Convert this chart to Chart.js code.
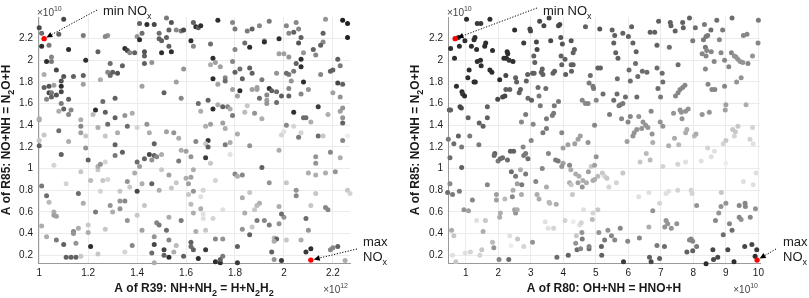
<!DOCTYPE html>
<html>
<head>
<meta charset="utf-8">
<script src="https://cdn.jsdelivr.net/npm/chart.js@4.4.1/dist/chart.umd.min.js"></script>
<style>
  html, body { margin: 0; padding: 0; background: #fff; }
  #wrap { position: relative; width: 809px; height: 298px; overflow: hidden; }
  #wrap canvas { position: absolute; top: 0; }
</style>
</head>
<body>
<div id="wrap">
  <canvas id="left-panel" width="400" height="298" style="left:0"></canvas>
  <canvas id="right-panel" width="409" height="298" style="left:400px"></canvas>
</div>
<script>
// Each sample row: [A of reaction on x (scaled), A of R85 (x1e10), NOx shade 0=black .. 1=white]
// Left panel: x = A of R39 (x1e12)
const leftSamples = [
  [1.00,2.30,.2],[1.01,2.25,.35],[1.01,2.13,.1],[1.04,2.14,.4],[1.10,2.38,.2],[1.08,2.24,.3],[1.12,2.10,.1],[1.03,1.99,.1],[1.05,2.03,.45],[1.05,1.99,.4],
  [1.07,1.91,.2],[1.02,1.87,.6],[1.02,1.75,.3],[1.04,1.76,.25],[1.06,1.77,.55],[1.04,1.70,.2],[1.05,1.70,.4],[1.03,1.64,.45],[1.05,1.66,.3],[1.07,1.68,.25],
  [1.09,1.71,.2],[1.09,1.76,.1],[1.09,1.81,.25],[1.10,1.85,.25],[1.14,1.85,.3],[1.12,1.64,.3],[1.09,1.60,.4],[1.10,1.55,.3],[1.13,1.54,.45],[1.12,1.50,.45],
  [1.00,1.45,.55],[1.00,1.46,.6],[1.08,1.53,.6],[1.08,1.35,.35],[1.02,1.31,.7],[1.00,1.26,.7],[1.00,1.21,.3],[1.12,1.25,.6],[1.18,2.23,.4],[1.19,2.00,.1],
  [1.18,1.86,.3],[1.18,1.78,.55],[1.17,1.45,.6],[1.17,1.39,.45],[1.17,1.33,.55],[1.19,1.30,.7],[1.19,1.19,.5],[1.24,2.08,.3],[1.25,1.82,.6],[1.26,1.62,.35],
  [1.23,1.54,.1],[1.22,1.50,.65],[1.27,1.52,.3],[1.24,1.38,.6],[1.28,1.41,.35],[1.27,1.30,.7],[1.28,2.23,.5],[1.27,2.22,.45],[1.29,1.97,.35],[1.28,1.89,.45],
  [1.29,1.86,.35],[1.30,1.89,.3],[1.32,1.88,.25],[1.31,1.65,.3],[1.31,1.47,.3],[1.32,1.33,.6],[1.31,1.22,.3],[1.35,2.11,.1],[1.36,2.09,.2],[1.34,1.95,.3],
  [1.37,2.07,.45],[1.39,2.07,.3],[1.35,1.49,.5],[1.36,1.39,.35],[1.38,1.51,.6],[1.40,1.38,.75],[1.40,2.22,.5],[1.41,2.34,.3],[1.41,2.19,.1],[1.42,2.25,.35],
  [1.43,2.08,.25],[1.43,2.04,.3],[1.43,1.97,.3],[1.42,1.76,.55],[1.44,2.33,.1],[1.46,1.98,.5],[1.47,2.33,.2],[1.49,2.25,.35],[1.50,2.18,.3],[1.52,2.21,.3],
  [1.49,2.20,.3],[1.50,2.07,.1],[1.51,1.70,.3],[1.45,1.33,.6],[1.44,1.41,.5],[1.47,1.23,.3],[1.52,1.34,.55],[1.52,2.39,.4],[1.53,2.28,.3],[1.53,2.13,.3],
  [1.54,2.35,.25],[1.54,2.08,.1],[1.56,2.28,.45],[1.59,1.92,.5],[1.56,1.80,.55],[1.58,1.65,.45],[1.55,1.33,.5],[1.57,1.28,.6],[1.58,2.27,.4],[1.59,2.28,.2],
  [1.62,2.18,.1],[1.63,2.35,.3],[1.64,2.31,.1],[1.65,2.30,.3],[1.63,2.13,.45],[1.65,1.60,.35],[1.64,1.25,.45],
  [1.09,1.13,.3],[1.06,1.03,.75],[1.01,0.84,.4],[1.03,0.75,.35],[1.04,0.69,.65],[1.06,0.60,.6],[1.06,0.57,.55],[1.07,0.56,.55],[1.11,0.86,.75],[1.17,0.97,.7],
  [1.20,1.08,.3],[1.21,0.89,.65],[1.16,0.77,.35],[1.18,0.68,.6],[1.01,0.47,.6],[1.03,0.37,.6],[1.07,0.34,.4],[1.10,0.30,.3],[1.11,0.18,.3],[1.13,0.18,.3],
  [1.15,0.18,.3],[1.14,0.42,.45],[1.14,0.40,.5],[1.16,0.45,.6],[1.15,0.31,.5],[1.17,0.19,.7],[1.20,0.48,.7],[1.20,0.41,.6],[1.21,0.28,.1],[1.23,0.60,.4],
  [1.24,0.99,.7],[1.24,1.02,.6],[1.25,1.04,.5],[1.26,0.89,.7],[1.27,0.44,.7],[1.24,0.21,.7],[1.25,0.79,.75],[1.27,1.06,.75],[1.28,0.90,.75],[1.29,0.66,.5],
  [1.30,0.60,.6],[1.31,1.12,.4],[1.33,0.79,.7],[1.33,0.70,.5],[1.33,0.63,.5],[1.34,1.15,.3],[1.35,0.70,.45],[1.36,0.52,.5],[1.36,0.88,.5],[1.37,0.83,.7],
  [1.38,0.29,.45],[1.35,0.23,.75],[1.39,0.96,.6],[1.40,1.06,.35],[1.40,0.79,.2],[1.41,1.02,.55],[1.42,0.86,.6],[1.40,0.57,.7],[1.42,0.43,.55],[1.43,0.66,.7],
  [1.43,1.09,.3],[1.45,1.13,.2],[1.46,1.08,.5],[1.46,0.86,.3],[1.47,1.12,.3],[1.48,1.11,.45],[1.49,0.80,.6],[1.47,0.37,.5],[1.47,0.30,.2],[1.47,0.13,.6],
  [1.46,0.22,.35],[1.48,0.50,.45],[1.49,0.48,.4],[1.50,1.13,.6],[1.50,0.99,.7],[1.52,0.43,.35],[1.51,0.25,.2],[1.51,0.20,.3],[1.53,0.18,.1],[1.53,0.34,.45],
  [1.53,0.94,.55],[1.54,0.82,.7],[1.56,0.87,.7],[1.55,0.23,.6],[1.56,0.29,.65],[1.57,1.07,.4],[1.58,0.52,.4],[1.58,1.17,.6],[1.60,1.16,.55],[1.61,0.76,.7],
  [1.60,0.91,.6],[1.61,0.86,.55],[1.62,0.67,.65],[1.62,1.11,.5],[1.62,0.92,.55],[1.63,0.99,.6],[1.63,0.79,.5],[1.63,0.59,.6],[1.62,0.28,.35],[1.62,0.32,.3],
  [1.63,0.25,.3],[1.64,0.42,.6],[1.65,0.17,.1],[1.66,0.63,.6],[1.59,0.19,.3],[1.53,0.55,.6],
  [1.66,2.32,.1],[1.73,2.37,.1],[1.79,2.35,.45],[1.80,2.29,.4],[1.85,2.27,.4],[1.87,2.29,.3],[1.90,2.32,.45],[1.94,2.36,.4],[1.70,2.15,.35],[1.80,2.10,.45],
  [1.84,2.16,.35],[1.86,2.12,.1],[1.92,2.18,.5],[1.92,2.17,.1],[1.98,2.20,.1],[2.01,2.32,.45],[2.05,2.35,.45],[2.06,2.29,.45],[2.04,2.26,.3],[2.02,2.25,.45],
  [2.07,2.21,.3],[2.06,2.16,.25],[2.17,2.38,.5],[2.24,2.37,.05],[2.26,2.34,.05],[2.26,2.21,.05],[2.16,2.25,.3],[2.16,2.17,.45],[2.15,2.14,.3],[2.12,2.10,.3],
  [2.13,2.05,.45],[1.98,2.06,.55],[2.00,2.06,.55],[2.02,2.03,.5],[2.08,2.07,.5],[2.07,2.01,.1],[2.05,1.97,.3],[2.07,1.94,.1],[2.04,1.90,.4],[2.02,1.87,.4],
  [2.03,1.81,.5],[2.08,1.80,.1],[2.10,1.73,.5],[2.07,1.69,.45],[2.02,1.74,.45],[2.02,1.67,.3],[1.99,1.67,.3],[1.97,1.61,.35],[1.97,1.71,.35],[1.94,1.74,.1],
  [1.95,1.72,.3],[1.93,1.68,.45],[1.93,1.63,.55],[1.93,1.60,.5],[1.90,1.65,.35],[1.89,1.73,.55],[1.89,1.75,.55],[1.87,1.73,.55],[1.91,1.82,.4],[1.87,1.88,.3],
  [1.86,1.93,.3],[1.83,1.83,.3],[1.82,1.92,.35],[1.80,1.89,.3],[1.82,1.72,.1],[1.79,1.73,.55],[1.81,1.67,.55],[1.79,1.99,.45],[1.76,1.84,.45],[1.76,1.81,.35],
  [1.73,1.78,.55],[1.71,1.83,.1],[1.71,2.02,.1],[1.72,1.98,.55],[1.70,1.96,.6],[1.74,1.94,.55],[1.97,1.88,.5],[2.01,1.88,.35],[2.19,1.90,.3],[2.20,1.91,.3],
  [2.22,1.79,.2],[2.24,1.78,.3],[2.22,2.01,.3],[2.23,1.95,.4],[2.15,1.87,.45],[2.20,1.70,.55],[2.23,1.66,.5],[2.14,1.57,.15],[2.04,1.52,.1],[2.08,1.47,.35],
  [2.09,1.47,.35],[2.11,1.43,.6],[2.18,1.50,.6],[2.23,1.53,.55],[2.24,1.56,.5],[2.24,1.47,.5],[2.24,1.42,.3],[2.01,1.40,.45],[2.04,1.39,.75],[1.99,1.31,.75],
  [2.00,1.34,.8],[2.07,1.33,.75],[2.06,1.29,.4],[2.14,1.30,.35],[2.16,1.30,.7],[2.26,1.30,.85],[2.24,1.26,.45],[1.69,1.63,.3],[1.71,1.55,.1],[1.73,1.59,.6],
  [1.75,1.57,.3],[1.77,1.57,.45],[1.78,1.55,.6],[1.66,1.53,.6],[1.79,1.49,.4],[1.84,1.52,.65],[1.85,1.58,.7],[1.88,1.51,.5],[1.91,1.46,.6],[1.68,1.39,.6],
  [1.70,1.41,.55],[1.75,1.42,.55],[1.76,1.37,.6],[1.69,1.26,.15],[1.68,1.23,.7],[1.69,1.20,.3],[1.76,1.22,.4],[1.78,1.24,.6],[1.81,1.32,.6],[1.86,1.21,.5],
  [1.68,1.10,.15],[1.70,1.05,.7],[1.72,0.89,.75],[1.78,1.13,.8],[1.80,0.95,.45],[1.81,0.93,.6],[1.83,0.94,.45],[1.91,1.01,.3],[1.98,1.17,.6],[2.13,1.11,.5],
  [2.13,1.05,.5],[2.19,1.15,.45],[2.23,1.10,.6],[2.17,0.96,.6],[2.21,0.97,.5],[2.13,0.94,.6],[2.10,0.96,.6],[1.67,0.80,.75],[1.66,0.74,.8],[1.86,0.78,.7],
  [1.83,0.73,.6],[1.94,0.87,.5],[2.01,0.87,.7],[2.05,0.80,.5],[2.05,0.75,.45],[1.90,0.68,.6],[1.89,0.66,.65],[1.88,0.62,.7],[1.67,0.58,.8],[1.75,0.62,.8],
  [1.71,0.54,.75],[1.67,0.54,.8],[1.84,0.59,.6],[1.89,0.52,.4],[1.92,0.52,.45],[1.94,0.48,.4],[1.98,0.49,.5],[2.00,0.55,.5],[1.99,0.58,.35],[1.98,0.65,.6],
  [1.87,0.46,.7],[1.83,0.44,.5],[1.86,0.39,.3],[1.68,0.43,.7],[1.72,0.35,.45],[1.75,0.35,.5],[1.96,0.36,.65],[1.97,0.35,.3],[1.96,0.33,.6],[2.01,0.34,.7],
  [2.09,0.54,.35],[2.10,0.43,.5],[2.17,0.64,.45],[2.18,0.62,.45],[2.26,0.80,.7],[2.27,0.77,.75],[2.13,0.77,.7],[2.11,0.66,.7],[2.07,0.34,.6],[1.68,0.25,.15],
  [1.72,0.14,.1],[1.74,0.13,.1],[1.74,0.16,.3],[1.75,0.19,.4],[1.81,0.13,.15],[1.81,0.28,.3],[1.95,0.23,.3],[1.96,0.16,.5],[1.99,0.15,.15],[2.09,0.23,.15],
  [2.11,0.26,.1],[2.19,0.25,.45],[2.20,0.27,.45],[2.22,0.28,.3],[2.25,0.15,.6]
];

// Right panel: x = A of R80 (x1e10)
const rightSamples = [
  [0.53,2.11,.1],[0.65,2.02,.1],[0.80,2.13,.1],[0.77,2.21,.1],[0.97,2.18,.1],[1.02,2.38,.1],[1.28,2.21,.1],[1.25,2.19,.1],[1.35,2.34,.15],[1.46,2.34,.15],
  [1.74,2.38,.1],[1.17,2.13,.1],[1.33,2.10,.1],[1.58,2.13,.1],[1.61,2.16,.1],[1.82,2.09,.1],[1.35,1.99,.1],[1.45,2.00,.1],[1.47,1.95,.1],[1.10,1.91,.1],
  [1.06,1.84,.1],[1.25,1.80,.1],[1.29,1.80,.1],[1.74,1.91,.1],[1.80,1.89,.1],[0.71,1.76,.1],[0.88,1.71,.1],[0.90,1.69,.15],[0.96,1.67,.1],[0.82,1.57,.2],
  [0.86,1.56,.2],[0.49,1.54,.3],[0.53,1.54,.3],[1.66,1.57,.3],[1.07,1.47,.3],[1.41,1.42,.3],[1.53,1.39,.3],[1.66,1.47,.3],[0.46,1.27,.4],[0.63,1.23,.35],
  [0.77,1.30,.3],[0.87,1.20,.4],[1.12,1.30,.4],[1.40,1.22,.4],[2.04,1.82,.1],[1.98,1.64,.2],[2.13,1.66,.2],[2.20,1.67,.2],[2.23,1.86,.2],[2.27,2.08,.1],
  [2.29,2.06,.1],[2.17,2.02,.1],[2.25,2.02,.1],[2.33,2.00,.15],[2.45,1.99,.1],[2.50,2.28,.1],[2.78,2.16,.15],[2.53,1.84,.3],[2.56,1.80,.3],[2.64,1.70,.3],
  [2.68,1.73,.3],[2.35,1.73,.3],[2.23,1.73,.3],[2.91,1.65,.35],[3.02,1.63,.3],[2.86,1.81,.3],[2.90,1.87,.3],[2.97,2.29,.2],[2.99,2.27,.2],[3.05,1.88,.3],
  [3.10,1.88,.3],[3.09,2.04,.3],[3.12,1.98,.3],[3.17,2.17,.2],[3.19,2.10,.2],[3.27,2.36,.2],[3.40,2.32,.2],[3.35,1.92,.3],[3.32,1.89,.3],[3.37,1.87,.3],
  [3.46,1.74,.35],[3.22,1.75,.35],[3.25,1.67,.4],[3.29,1.58,.4],[3.56,2.39,.2],[3.61,2.18,.2],[3.68,1.88,.3],[3.73,1.90,.3],[3.72,1.58,.4],[3.70,1.51,.4],
  [3.66,1.49,.4],[3.48,1.46,.4],[3.48,1.37,.4],[3.37,1.33,.4],[3.07,1.41,.45],[3.01,1.26,.45],[2.71,1.43,.45],[2.84,1.50,.4],[2.76,1.20,.45],[3.85,2.32,.2],
  [3.89,2.33,.2],[3.92,2.21,.25],[3.97,2.15,.25],[3.93,2.04,.3],[3.95,1.96,.3],[4.05,2.01,.3],[3.85,1.62,.4],[3.95,1.33,.45],[3.99,1.19,.55],[4.14,1.22,.55],
  [4.07,1.87,.3],[4.25,1.90,.3],[4.30,2.07,.3],[4.34,2.10,.3],[4.24,1.96,.3],[4.30,1.96,.3],[4.24,2.18,.25],[4.52,1.30,.55],[4.35,1.23,.55],[4.45,1.27,.55],
  [4.68,2.31,.3],[4.83,1.86,.35],[4.91,1.76,.4],[4.79,1.79,.4],[4.93,1.74,.4],[4.58,1.63,.45],[4.68,1.60,.45],[4.76,1.60,.45],[4.96,1.40,.45],[5.01,1.63,.45],
  [5.06,1.93,.3],[4.76,1.24,.5],
  [0.51,1.10,.35],[0.51,0.86,.45],[0.44,0.78,.35],[0.59,0.76,.4],[0.80,0.79,.4],[0.87,1.01,.3],[0.56,0.43,.6],[0.63,0.38,.7],[0.59,0.20,.8],[0.69,0.14,.7],
  [0.94,0.62,.5],[1.08,0.61,.55],[0.98,0.22,.8],[1.14,0.23,.75],[1.20,0.71,.45],[1.49,0.25,.7],[1.33,0.52,.8],[1.53,0.42,.6],[1.66,0.85,.45],[1.60,0.52,.7],
  [1.43,0.20,.75],[1.89,1.14,.3],[1.87,1.12,.35],[1.99,1.07,.4],[1.94,0.76,.55],[1.94,0.71,.55],[1.82,0.32,.65],[1.86,0.27,.5],[2.02,0.16,.45],[2.06,1.09,.35],
  [2.13,1.10,.35],[2.28,1.08,.35],[2.06,0.59,.6],[2.04,0.55,.6],[2.20,0.72,.65],[2.32,0.16,.35],[2.37,1.16,.3],[2.47,1.16,.3],[2.40,0.97,.35],[2.43,0.74,.45],
  [2.45,0.80,.6],[2.53,0.93,.4],[2.58,0.86,.55],[2.59,0.35,.7],[2.53,0.59,.5],[2.50,0.62,.55],[2.58,0.62,.6],[2.35,0.38,.8],[2.39,0.29,.85],[2.72,0.85,.4],
  [2.71,0.76,.6],[2.78,1.12,.4],[2.84,1.14,.4],[2.84,0.95,.4],[2.91,1.09,.35],[2.68,0.99,.6],[2.78,0.28,.75],[3.05,0.32,.5],[3.15,0.88,.45],[3.19,0.76,.6],
  [3.25,0.72,.6],[3.35,1.00,.45],[3.48,0.83,.6],[3.54,1.14,.45],[3.56,0.69,.65],[3.58,0.68,.65],[3.44,0.51,.8],[3.53,0.45,.8],[3.70,0.45,.75],[3.84,1.07,.4],
  [3.76,1.08,.4],[3.78,0.67,.6],[3.80,0.18,.35],[3.99,1.05,.55],[3.95,1.02,.5],[4.05,0.52,.75],[4.15,0.20,.3],[4.19,1.03,.45],[4.23,0.99,.6],[4.19,0.87,.6],
  [4.24,0.85,.7],[4.28,0.76,.7],[4.30,0.51,.85],[4.38,0.95,.6],[4.48,0.93,.6],[4.45,0.87,.55],[4.40,0.38,.7],[4.38,0.31,.5],[4.42,0.25,.35],[4.50,0.48,.8],
  [4.55,0.50,.75],[4.57,0.41,.5],[4.53,0.26,.45],[4.58,0.35,.4],[4.60,0.89,.6],[4.58,0.83,.5],[4.62,0.62,.8],[4.71,0.87,.6],[4.77,0.97,.55],[4.86,1.02,.7],
  [4.89,0.53,.65],[4.91,0.89,.6],[4.96,0.90,.6],[4.79,0.26,.35],[4.79,0.28,.45],[4.91,0.59,.75],[4.96,1.03,.55],[5.01,1.11,.5],[5.09,0.41,.5],[5.06,0.62,.7],
  [5.06,0.93,.65],
  [5.12,2.29,.25],[5.50,2.28,.3],[5.58,2.23,.3],[5.55,2.16,.3],[5.61,2.07,.3],[5.68,2.02,.3],[5.83,2.25,.3],[6.00,2.22,.3],[6.10,2.31,.3],[6.14,2.16,.3],
  [6.24,2.08,.3],[6.67,2.26,.3],[6.81,2.26,.3],[6.93,2.36,.3],[6.88,2.14,.3],[7.29,2.35,.3],[7.31,2.32,.3],[7.44,2.27,.3],[7.67,2.35,.3],[7.69,2.30,.3],
  [7.88,2.39,.3],[8.06,2.30,.35],[8.34,2.33,.4],[8.54,2.28,.35],[8.72,2.37,.35],[8.90,2.28,.4],[9.19,2.39,.35],[10.0,2.37,.4],[9.54,2.23,.45],[9.65,2.24,.45],
  [9.99,2.16,.45],[9.82,2.04,.5],[9.68,1.97,.45],[7.26,2.12,.35],[7.98,2.18,.4],[8.31,2.19,.4],[8.39,2.22,.4],[8.44,2.23,.4],[8.37,2.12,.4],[8.41,2.09,.45],
  [8.27,2.06,.45],[8.39,2.04,.45],[8.55,2.08,.45],[8.64,1.99,.45],[8.80,2.19,.45],[8.85,2.07,.45],[8.96,2.00,.45],[9.09,1.94,.45],[9.17,2.07,.45],[9.26,2.04,.5],
  [9.31,2.03,.5],[9.37,2.01,.5],[9.44,1.99,.5],[9.52,1.98,.5],[8.37,1.92,.45],[7.53,1.96,.35],[6.88,1.93,.35],[7.04,1.88,.35],[6.22,1.97,.35],[6.02,1.91,.35],
  [6.29,1.85,.35],[6.43,1.90,.35],[6.57,1.89,.35],[6.06,1.81,.35],[5.66,1.83,.35],[5.14,1.93,.3],[5.22,1.69,.35],[5.65,1.69,.35],[5.55,1.63,.35],[5.91,1.66,.35],
  [5.75,1.59,.4],[5.83,1.60,.4],[5.71,1.58,.4],[5.42,1.50,.4],[5.79,1.46,.45],[6.06,1.48,.45],[5.99,1.43,.45],[6.32,1.48,.5],[6.26,1.66,.35],[7.06,1.80,.35],
  [6.91,1.74,.35],[6.99,1.66,.4],[6.70,1.53,.45],[6.45,1.43,.5],[6.53,1.40,.5],[6.60,1.38,.5],[6.41,1.37,.5],[6.26,1.36,.5],[6.18,1.33,.5],[6.14,1.30,.5],
  [6.73,1.32,.5],[6.98,1.43,.5],[7.06,1.39,.5],[5.96,1.25,.55],[6.75,1.24,.6],[7.45,1.67,.45],[7.53,1.70,.45],[7.59,1.73,.45],[7.67,1.75,.45],[7.74,1.77,.45],
  [7.39,1.51,.5],[7.59,1.54,.5],[7.63,1.52,.5],[7.76,1.53,.5],[7.84,1.55,.5],[7.65,1.46,.5],[7.24,1.21,.6],[7.42,1.28,.6],[7.55,1.22,.65],[7.80,1.36,.6],
  [7.76,1.33,.6],[8.03,1.30,.65],[8.08,1.32,.6],[8.27,1.50,.5],[8.49,1.52,.5],[8.45,1.78,.45],[8.57,1.73,.45],[8.66,1.73,.45],[8.96,1.76,.45],[9.33,1.80,.5],
  [9.47,1.84,.5],[9.00,1.59,.55],[8.98,1.54,.55],[9.62,1.59,.6],[9.00,1.26,.7],[8.92,1.23,.75],[9.21,1.36,.7],[9.29,1.34,.7],[9.37,1.39,.7],[9.26,1.30,.75],
  [9.82,1.38,.75],[9.74,1.27,.75],[9.84,1.23,.8],[8.44,1.19,.75],
  [6.55,1.14,.65],[6.36,1.06,.7],[6.67,1.08,.65],[5.20,0.96,.7],[5.27,0.93,.75],[5.34,0.91,.7],[5.83,0.96,.7],[7.06,1.02,.75],[7.52,1.04,.75],[7.76,1.06,.8],
  [8.24,1.07,.8],[8.55,1.11,.8],[8.65,1.16,.8],[9.00,1.05,.85],[9.54,0.88,.8],[9.84,0.85,.8],[9.93,0.96,.8],[5.63,0.87,.75],[5.40,0.83,.75],[6.32,0.74,.8],
  [6.63,0.78,.8],[7.16,0.77,.8],[7.24,0.79,.8],[7.52,0.80,.75],[6.96,0.68,.75],[6.75,0.61,.5],[7.93,0.80,.75],[7.96,0.77,.75],[8.10,0.66,.5],[8.86,0.78,.7],
  [9.00,0.68,.5],[8.78,0.59,.5],[8.68,0.52,.45],[8.85,0.65,.5],[9.11,0.49,.45],[9.41,0.66,.45],[9.59,0.68,.45],[9.60,0.65,.45],[9.47,0.53,.5],[9.41,0.55,.45],
  [9.75,0.55,.45],[9.91,0.63,.5],[9.19,0.43,.35],[8.92,0.39,.35],[5.27,0.34,.4],[5.37,0.43,.5],[5.48,0.38,.45],[5.58,0.34,.45],[5.75,0.45,.45],[5.98,0.33,.45],
  [6.34,0.36,.45],[6.63,0.46,.6],[7.16,0.52,.5],[7.21,0.49,.5],[7.32,0.45,.5],[7.12,0.46,.5],[7.49,0.49,.5],[6.88,0.29,.4],[7.11,0.28,.35],[6.96,0.17,.3],
  [6.65,0.18,.3],[6.70,0.14,.2],[5.85,0.14,.15],[5.17,0.28,.3],[5.18,0.20,.3],[7.93,0.35,.45],[7.98,0.33,.45],[7.88,0.34,.45],[8.10,0.28,.4],[7.80,0.23,.3],
  [7.98,0.24,.3],[8.60,0.25,.2],[8.62,0.16,.2],[8.75,0.18,.2],[8.39,0.12,.1],[9.06,0.25,.2],[9.25,0.14,.1],[9.58,0.28,.2],[9.80,0.30,.2],[9.95,0.25,.15],
  [9.90,0.19,.1]
];

// The samples giving the lowest and highest NOx (red markers)
const leftMinNox = [1.02, 2.20];
const leftMaxNox = [2.11, 0.155];
const rightMinNox = [0.67, 2.20];
const rightMaxNox = [9.96, 0.155];

const leftXTicks = [1, 1.2, 1.4, 1.6, 1.8, 2, 2.2];
const rightXTicks = [1, 2, 3, 4, 5, 6, 7, 8, 9, 10];
const yTicks = [0.2, 0.4, 0.6, 0.8, 1, 1.2, 1.4, 1.6, 1.8, 2, 2.2];

const yTitle = "A of R85: NO+NH = N_2O+H";
const leftXTitle = "A of R39: NH+NH_2 = H+N_2H_2";
const rightXTitle = "A of R80: OH+NH = HNO+H";
const minLabel = "min NO_x";
const maxLabel = ["max", "NO_x"];

const FONT = '"Liberation Sans", Arial, Helvetica, sans-serif';
const TEXT_COLOR = "#1a1a1a";

function shadeToGray(shade) {
  const g = Math.round(20 + 228 * Math.min(1, shade * 1.12));
  return `rgb(${g},${g},${g})`;
}

// "N_2O" -> subscript the character after each underscore
function parseRich(str) {
  const parts = [];
  let buf = "";
  for (let i = 0; i < str.length; i++) {
    if (str[i] === "_" && i + 1 < str.length) {
      if (buf) parts.push([buf, false]);
      buf = "";
      parts.push([str[i + 1], true]);
      i++;
    } else {
      buf += str[i];
    }
  }
  if (buf) parts.push([buf, false]);
  return parts;
}

function drawRich(ctx, str, x, y, size, weight, align) {
  const parts = parseRich(str);
  const subSize = Math.round(size * 0.72);
  const fontFor = (sub) => `${weight} ${sub ? subSize : size}px ${FONT}`;
  let total = 0;
  parts.forEach(([t, sub]) => {
    ctx.font = fontFor(sub);
    total += ctx.measureText(t).width;
  });
  let cx = align === "center" ? x - total / 2 : align === "right" ? x - total : x;
  ctx.textAlign = "left";
  ctx.textBaseline = "alphabetic";
  parts.forEach(([t, sub]) => {
    ctx.font = fontFor(sub);
    ctx.fillText(t, cx, y + (sub ? size * 0.3 : 0));
    cx += ctx.measureText(t).width;
  });
}

function drawPower(ctx, exponent, x, y, align) {
  const base = "\u00d710";
  ctx.font = `10px ${FONT}`;
  const wBase = ctx.measureText(base).width;
  ctx.font = `7px ${FONT}`;
  const wExp = ctx.measureText(exponent).width;
  let left = align === "right" ? x - wBase - wExp : x;
  ctx.fillStyle = "#444";
  ctx.textAlign = "left";
  ctx.textBaseline = "alphabetic";
  ctx.font = `10px ${FONT}`;
  ctx.fillText(base, left, y);
  ctx.font = `7px ${FONT}`;
  ctx.fillText(exponent, left + wBase, y - 5);
}

function drawArrow(ctx, from, to) {
  const dx = to[0] - from[0];
  const dy = to[1] - from[1];
  const len = Math.hypot(dx, dy);
  const ux = dx / len;
  const uy = dy / len;
  const headLen = 6;
  const headW = 2.8;
  const bx = to[0] - ux * headLen;
  const by = to[1] - uy * headLen;
  ctx.save();
  ctx.strokeStyle = "#000";
  ctx.lineWidth = 1;
  ctx.setLineDash([1.2, 1.6]);
  ctx.beginPath();
  ctx.moveTo(from[0], from[1]);
  ctx.lineTo(bx, by);
  ctx.stroke();
  ctx.setLineDash([]);
  ctx.fillStyle = "#000";
  ctx.beginPath();
  ctx.moveTo(to[0], to[1]);
  ctx.lineTo(bx - uy * headW, by + ux * headW);
  ctx.lineTo(bx + uy * headW, by - ux * headW);
  ctx.closePath();
  ctx.fill();
  ctx.restore();
}

// Titles, exponent labels and the min/max NOx call-outs
const annotationPlugin = {
  id: "noxAnnotations",
  afterDraw(chart, args, opts) {
    const { ctx, chartArea, scales } = chart;
    ctx.save();
    ctx.fillStyle = TEXT_COLOR;

    // y title, rotated
    ctx.save();
    ctx.translate(chartArea.left + opts.yTitleOffset, (chartArea.top + chartArea.bottom) / 2);
    ctx.rotate(-Math.PI / 2);
    drawRich(ctx, yTitle, 0, 0, 12, "bold", "center");
    ctx.restore();

    // x title
    drawRich(ctx, opts.xTitle, (chartArea.left + chartArea.right) / 2, chartArea.bottom + 29, 12, "bold", "center");

    // exponent labels
    drawPower(ctx, "10", chartArea.left - 1, chartArea.top - 1, "left");
    drawPower(ctx, opts.xExponent, chartArea.right - 2, chartArea.bottom + 30, "right");

    // min NOx call-out
    ctx.fillStyle = TEXT_COLOR;
    const minPx = [scales.x.getPixelForValue(opts.minPoint[0]), scales.y.getPixelForValue(opts.minPoint[1])];
    drawRich(ctx, minLabel, opts.minLabelAt[0], opts.minLabelAt[1], 13, "normal", "left");
    const minFrom = opts.minLineFrom;
    const mLen = Math.hypot(minFrom[0] - minPx[0], minFrom[1] - minPx[1]);
    drawArrow(ctx, minFrom, [
      minPx[0] + (minFrom[0] - minPx[0]) / mLen * 2.5,
      minPx[1] + (minFrom[1] - minPx[1]) / mLen * 2.5
    ]);

    // max NOx call-out
    ctx.fillStyle = TEXT_COLOR;
    const maxPx = [scales.x.getPixelForValue(opts.maxPoint[0]), scales.y.getPixelForValue(opts.maxPoint[1])];
    drawRich(ctx, maxLabel[0], opts.maxLabelAt[0], opts.maxLabelAt[1], 13, "normal", "left");
    drawRich(ctx, maxLabel[1], opts.maxLabelAt[0], opts.maxLabelAt[1] + 15, 13, "normal", "left");
    const maxFrom = opts.maxLineFrom;
    const xLen = Math.hypot(maxFrom[0] - maxPx[0], maxFrom[1] - maxPx[1]);
    drawArrow(ctx, maxFrom, [
      maxPx[0] + (maxFrom[0] - maxPx[0]) / xLen * 3,
      maxPx[1] + (maxFrom[1] - maxPx[1]) / xLen * 3
    ]);

    ctx.restore();
  }
};

function buildPanel(canvas, panel) {
  const gridColor = "#ebebeb";
  const axisColor = "#9a9a9a";
  const tickFont = { family: FONT, size: 10 };

  return new Chart(canvas, {
    type: "scatter",
    data: {
      datasets: [
        {
          label: "NOx extremes",
          data: [panel.minPoint, panel.maxPoint].map(([x, y]) => ({ x, y })),
          backgroundColor: "#ff0000",
          borderWidth: 0,
          pointRadius: 2.7,
          pointHoverRadius: 2.7,
          clip: false
        },
        {
          label: "Samples",
          data: panel.samples.map(([x, y]) => ({ x, y })),
          backgroundColor: panel.samples.map((s) => shadeToGray(s[2])),
          borderWidth: 0,
          pointRadius: 2.5,
          pointHoverRadius: 2.5,
          clip: false
        }
      ]
    },
    options: {
      responsive: false,
      animation: false,
      events: [],
      layout: {
        padding: { top: 17, right: panel.rightPad, bottom: 0, left: 0 }
      },
      plugins: {
        legend: { display: false },
        tooltip: { enabled: false },
        noxAnnotations: {
          xTitle: panel.xTitle,
          xExponent: panel.xExponent,
          yTitleOffset: panel.yTitleOffset,
          minPoint: panel.minPoint,
          maxPoint: panel.maxPoint,
          minLabelAt: panel.minLabelAt,
          minLineFrom: panel.minLineFrom,
          maxLabelAt: panel.maxLabelAt,
          maxLineFrom: panel.maxLineFrom
        }
      },
      scales: {
        x: {
          type: "linear",
          min: panel.xMin,
          max: panel.xMax,
          afterBuildTicks: (scale) => {
            scale.ticks = panel.xTicks.map((value) => ({ value }));
          },
          afterFit: (scale) => {
            scale.height = 35;
          },
          ticks: {
            font: tickFont,
            color: TEXT_COLOR,
            padding: 4,
            maxRotation: 0,
            callback: (value) => String(value)
          },
          grid: { color: gridColor, drawTicks: false },
          border: { display: true, color: axisColor }
        },
        y: {
          type: "linear",
          min: 0.128,
          max: 2.4,
          afterBuildTicks: (scale) => {
            scale.ticks = yTicks.map((value) => ({ value }));
          },
          afterFit: (scale) => {
            scale.width = panel.yAxisWidth;
          },
          ticks: {
            font: tickFont,
            color: TEXT_COLOR,
            padding: 5,
            callback: (value) => String(value)
          },
          grid: { color: gridColor, drawTicks: false },
          border: { display: true, color: axisColor }
        }
      }
    },
    plugins: [annotationPlugin]
  });
}

buildPanel(document.getElementById("left-panel"), {
  samples: leftSamples,
  minPoint: leftMinNox,
  maxPoint: leftMaxNox,
  xTicks: leftXTicks,
  xMin: 0.995,
  xMax: 2.27,
  xTitle: leftXTitle,
  xExponent: "12",
  yAxisWidth: 38,
  yTitleOffset: -28,
  rightPad: 50,
  minLabelAt: [103, 15],
  minLineFrom: [97, 10],
  maxLabelAt: [363, 246],
  maxLineFrom: [357, 249]
});

buildPanel(document.getElementById("right-panel"), {
  samples: rightSamples,
  minPoint: rightMinNox,
  maxPoint: rightMaxNox,
  xTicks: rightXTicks,
  xMin: 0.45,
  xMax: 10.05,
  xTitle: rightXTitle,
  xExponent: "10",
  yAxisWidth: 48,
  yTitleOffset: -29,
  rightPad: 49,
  minLabelAt: [143, 15],
  minLineFrom: [137, 8],
  maxLabelAt: [383, 246],
  maxLineFrom: [376, 249]
});
</script>
</body>
</html>
